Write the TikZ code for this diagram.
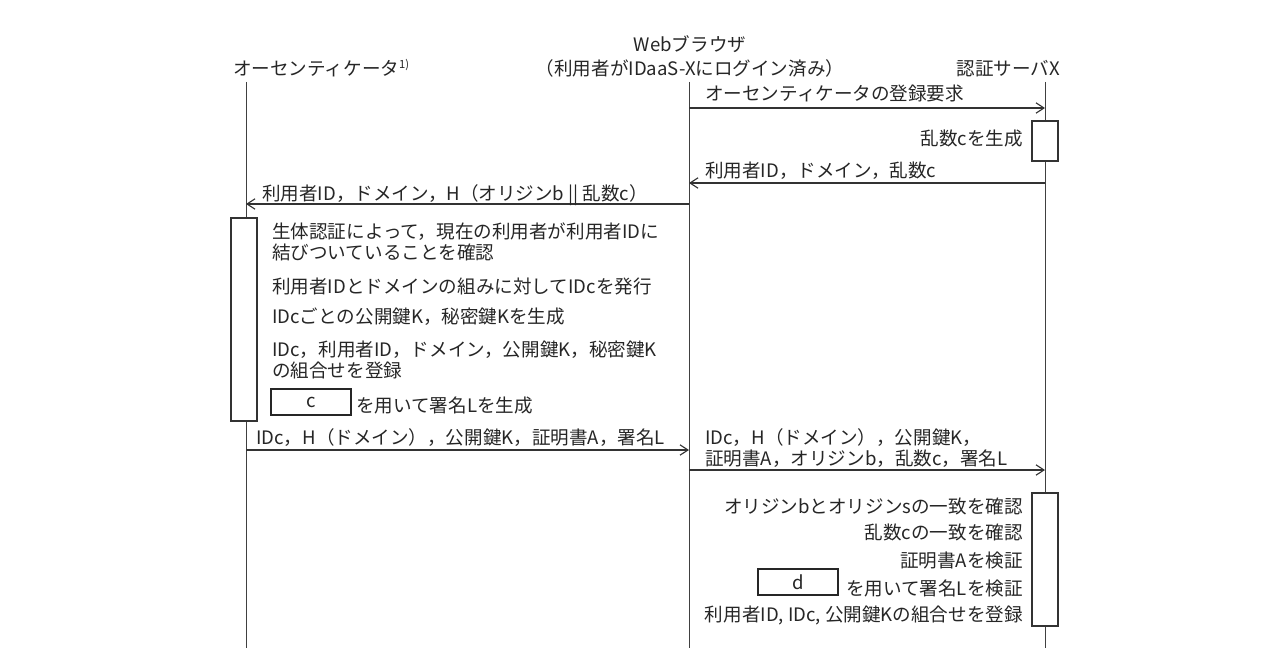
\documentclass[tikz,border=0pt]{standalone}
\usepackage{fontspec}
\setmainfont{Noto Sans CJK JP}
\usetikzlibrary{arrows.meta}
\begin{document}
\begin{tikzpicture}[x=0.025cm,y=-0.025cm,>={Straight Barb[length=2mm,width=2.6mm]},font=\fontsize{13.2}{15}\selectfont,
		life/.style={draw=black!75,line width=0.7pt},
		msg/.style={->,draw=black!80,line width=0.8pt},
		act/.style={draw=black!80,fill=white,line width=0.8pt},
		txt/.style={anchor=base west,inner sep=0pt,text=black!85},
		rtxt/.style={anchor=base east,inner sep=0pt,text=black!85},
		blank/.style={draw=black!85,line width=1.3pt,minimum width=2cm,minimum height=0.63cm,inner sep=0pt,text=black!85}]
		\useasboundingbox (0,0) rectangle (1280,670);
		% heads
		\node[txt] (auth) at (233,76) {オーセンティケータ\raisebox{0.75ex}{\fontsize{8}{8}\selectfont 1)}};
		\node[anchor=base,inner sep=0pt,text=black!85] (web) at (690,52) {Webブラウザ};
		\node[anchor=base,inner sep=0pt,text=black!85] (web2) at (690,76) {（利用者がIDaaS-Xにログイン済み）};
		\node[rtxt] (srv) at (1060,76) {認証サーバX};
		% lifelines
		\coordinate (atop) at (246,82); \coordinate (abot) at (246,648);
		\coordinate (btop) at (689,82); \coordinate (bbot) at (689,648);
		\coordinate (xtop) at (1045,82); \coordinate (xbot) at (1045,648);
		\draw[life] (atop) -- (abot);
		\draw[life] (btop) -- (bbot);
		\draw[life] (xtop) -- (xbot);
		% activations
		\draw[act] (1032,121) rectangle (1058,161);
		\draw[act] (231,218) rectangle (257,421);
		\draw[act] (1032,493) rectangle (1058,626);
		% messages
		\coordinate (b1) at (689,108); \coordinate (x1) at (1045,108);
		\coordinate (x2) at (1045,183); \coordinate (b2) at (689,183);
		\coordinate (b3) at (689,204); \coordinate (a3) at (246,204);
		\coordinate (a4) at (246,450); \coordinate (b4) at (689,450);
		\coordinate (b5) at (689,470); \coordinate (x5) at (1045,470);
		\draw[msg] (b1) -- (x1);
		\draw[msg] (x2) -- (b2);
		\draw[msg] (b3) -- (a3);
		\draw[msg] (a4) -- (b4);
		\draw[msg] (b5) -- (x5);
		\node[txt] (m1) at (705,101) {オーセンティケータの登録要求};
		\node[rtxt] (gen) at (1023,145) {乱数cを生成};
		\node[txt] (m2) at (705,177) {利用者ID，ドメイン，乱数c};
		\node[txt] (m3) at (262,200) {利用者ID，ドメイン，H（オリジンb || 乱数c）};
		% authenticator steps
		\node[txt] (bio1) at (272,238) {生体認証によって，現在の利用者が利用者IDに};
		\node[txt] (bio2) at (272,259) {結びついていることを確認};
		\node[txt] (idc) at (272,293) {利用者IDとドメインの組みに対してIDcを発行};
		\node[txt] (key) at (272,323) {IDcごとの公開鍵K，秘密鍵Kを生成};
		\node[txt] (reg1) at (272,356) {IDc，利用者ID，ドメイン，公開鍵K，秘密鍵K};
		\node[txt] (reg2) at (272,377) {の組合せを登録};
		\node[blank] (c) at (311,402) {c};
		\node[txt] (sig) at (356,412) {を用いて署名Lを生成};
		\node[txt] (m4) at (256,444) {IDc，H（ドメイン），公開鍵K，証明書A，署名L};
		\node[txt] (m5a) at (705,444) {IDc，H（ドメイン），公開鍵K，};
		\node[txt] (m5b) at (705,465) {証明書A，オリジンb，乱数c，署名L};
		% server checks
		\node[rtxt] (chk1) at (1023,513) {オリジンbとオリジンsの一致を確認};
		\node[rtxt] (chk2) at (1023,539) {乱数cの一致を確認};
		\node[rtxt] (chk3) at (1023,567) {証明書Aを検証};
		\node[blank] (d) at (798,582) {d};
		\node[rtxt] (chk4) at (1023,595) {を用いて署名Lを検証};
		\node[rtxt] (chk5) at (1023,621) {利用者ID, IDc, 公開鍵Kの組合せを登録};
\end{tikzpicture}
\end{document}
